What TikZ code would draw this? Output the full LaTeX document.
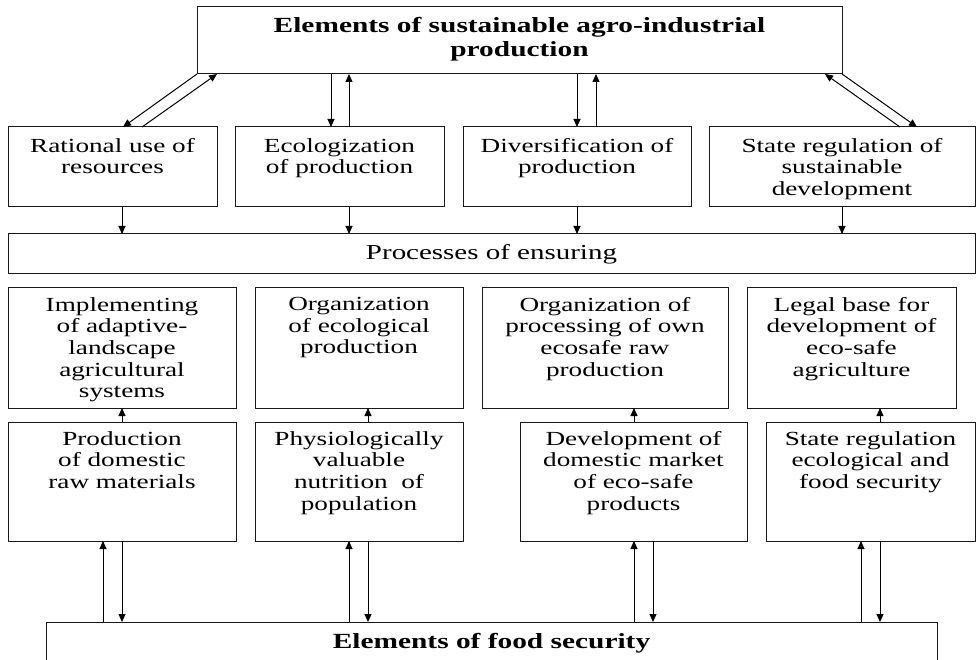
\documentclass[tikz,border=0pt]{standalone}
\usepackage{fontspec}
\setmainfont{Liberation Serif}[FakeStretch=1.36]
\usetikzlibrary{arrows.meta,calc}
\tikzset{
  boxst/.style={draw=black!90, line width=1pt, inner sep=0pt, outer sep=0pt, anchor=north west, rectangle},
  txt/.style={align=center, inner sep=0pt, anchor=north, font=\fontsize{20}{21.7}\selectfont},
  arr/.style={draw=black, line width=1pt, -{Triangle[length=8pt,width=7pt]}},
  ln/.style={draw=black, line width=1pt}
}
\begin{document}
\begin{tikzpicture}[x=1pt,y=-1pt]
\useasboundingbox (0,0) rectangle (980,660);
% boxes
\node[boxst, minimum width=645, minimum height=67] (top) at (197,7) {};
\node[boxst, minimum width=209, minimum height=80] (r1a) at (8,127) {};
\node[boxst, minimum width=209, minimum height=80] (r1b) at (235,127) {};
\node[boxst, minimum width=228, minimum height=80] (r1c) at (463,127) {};
\node[boxst, minimum width=266, minimum height=80] (r1d) at (709,127) {};
\node[boxst, minimum width=967, minimum height=40] (proc) at (8,234) {};
\node[boxst, minimum width=228, minimum height=120] (r2a) at (8,288) {};
\node[boxst, minimum width=208, minimum height=120] (r2b) at (255,288) {};
\node[boxst, minimum width=246, minimum height=120] (r2c) at (482,288) {};
\node[boxst, minimum width=209, minimum height=120] (r2d) at (747,288) {};
\node[boxst, minimum width=228, minimum height=119] (r3a) at (8,422) {};
\node[boxst, minimum width=208, minimum height=119] (r3b) at (255,422) {};
\node[boxst, minimum width=227, minimum height=119] (r3c) at (520,422) {};
\node[boxst, minimum width=209, minimum height=119] (r3d) at (766,422) {};
\node[boxst, minimum width=891, minimum height=60] (bot) at (46,622) {};
% texts
\node[align=center, inner sep=0pt, anchor=north, font=\fontsize{21.6}{24}\selectfont\bfseries] (ttop) at ($(top.north)+(0,10)$) {Elements of sustainable agro-industrial\\production};
\node[txt] (t1a) at ($(r1a.north)+(0,11)$) {Rational use of\\resources};
\node[txt] (t1b) at ($(r1b.north)+(0,11)$) {Ecologization\\of production};
\node[txt] (t1c) at ($(r1c.north)+(0,11)$) {Diversification of\\production};
\node[txt] (t1d) at ($(r1d.north)+(0,11)$) {State regulation of\\sustainable\\development};
\node[inner sep=0pt, anchor=base, font=\fontsize{21.3}{24}\selectfont] (tproc) at (491.5,260) {Processes of ensuring};
\node[txt] (t2a) at ($(r2a.north)+(0,9)$) {Implementing\\of adaptive-\\landscape\\agricultural\\systems};
\node[txt] (t2b) at ($(r2b.north)+(0,9)$) {Organization\\of ecological\\production};
\node[txt] (t2c) at ($(r2c.north)+(0,9)$) {Organization of\\processing of own\\ecosafe raw\\production};
\node[txt] (t2d) at ($(r2d.north)+(0,9)$) {Legal base for\\development of\\eco-safe\\agriculture};
\node[txt] (t3a) at ($(r3a.north)+(0,9)$) {Production\\of domestic\\raw materials};
\node[txt] (t3b) at ($(r3b.north)+(0,9)$) {Physiologically\\valuable\\nutrition\ \ of\\population};
\node[txt] (t3c) at ($(r3c.north)+(0,9)$) {Development of\\domestic market\\of eco-safe\\products};
\node[txt] (t3d) at ($(r3d.north)+(0,9)$) {State regulation\\ecological and\\food security};
\node[inner sep=0pt, anchor=base, font=\fontsize{21.6}{24}\selectfont\bfseries] (tbot) at (491.5,648) {Elements of food security};
% top arrows
\draw[arr] (top.south west) -- (123,0 |- r1a.north);
\draw[arr] (142,0 |- r1a.north) -- (217,0 |- top.south);
\draw[arr] (331,0 |- top.south) -- (331,0 |- r1b.north);
\draw[arr] (349,0 |- r1b.north) -- (349,0 |- top.south);
\draw[arr] (577,0 |- top.south) -- (577,0 |- r1c.north);
\draw[arr] (596,0 |- r1c.north) -- (596,0 |- top.south);
\draw[arr] (900,0 |- r1d.north) -- (825,0 |- top.south);
\draw[arr] (top.south east) -- (917,0 |- r1d.north);
% to processes
\draw[arr] (122,0 |- r1a.south) -- (122,0 |- proc.north);
\draw[arr] (349,0 |- r1b.south) -- (349,0 |- proc.north);
\draw[arr] (577,0 |- r1c.south) -- (577,0 |- proc.north);
\draw[arr] (842,0 |- r1d.south) -- (842,0 |- proc.north);
% row3 -> row2
\draw[arr] (122,0 |- r3a.north) -- (122,0 |- r2a.south);
\draw[arr] (368,0 |- r3b.north) -- (368,0 |- r2b.south);
\draw[arr] (634,0 |- r3c.north) -- (634,0 |- r2c.south);
\draw[arr] (880,0 |- r3d.north) -- (880,0 |- r2d.south);
% bottom arrows
\draw[arr] (103,0 |- bot.north) -- (103,0 |- r3a.south);
\draw[arr] (122,0 |- r3a.south) -- (122,0 |- bot.north);
\draw[arr] (349,0 |- bot.north) -- (349,0 |- r3b.south);
\draw[arr] (368,0 |- r3b.south) -- (368,0 |- bot.north);
\draw[arr] (634,0 |- bot.north) -- (634,0 |- r3c.south);
\draw[arr] (653,0 |- r3c.south) -- (653,0 |- bot.north);
\draw[arr] (861,0 |- bot.north) -- (861,0 |- r3d.south);
\draw[arr] (880,0 |- r3d.south) -- (880,0 |- bot.north);
\end{tikzpicture}
\end{document}
